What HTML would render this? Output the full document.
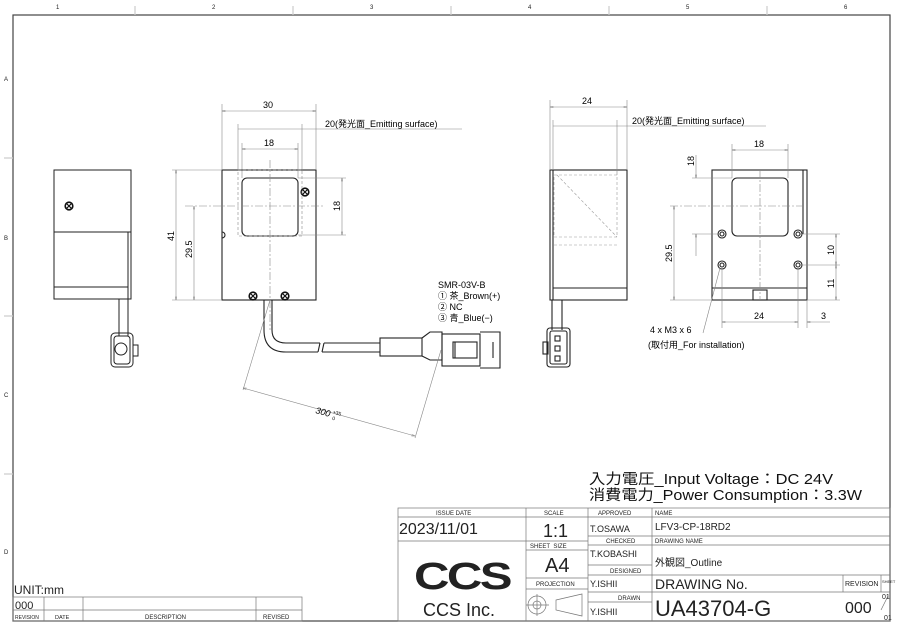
<!DOCTYPE html>
<html><head><meta charset="utf-8"><style>
html,body{margin:0;padding:0;background:#fff;}
svg{display:block;font-family:"Liberation Sans","Noto Sans CJK JP",sans-serif;}
.t{font-size:9px;fill:#000}
.s{font-size:6px;fill:#222}
</style></head><body>
<svg width="900" height="624" viewBox="0 0 900 624" xmlns="http://www.w3.org/2000/svg">
<defs>
<marker id="a" viewBox="0 0 10 6" refX="10" refY="3" markerWidth="8" markerHeight="4" orient="auto-start-reverse"><path d="M0,0 L10,3 L0,6" fill="none" stroke="#777" stroke-width="1"/></marker>
<g id="sc"><circle r="3.8" fill="#fff" stroke="#111" stroke-width="1.6"/><path d="M-2.2,-2.2 L2.2,2.2 M-2.2,2.2 L2.2,-2.2" stroke="#111" stroke-width="1.1"/></g>
</defs>
<!-- border -->
<rect x="13" y="15" width="877" height="606" fill="none" stroke="#444" stroke-width="1.2"/>
<g stroke="#ccc" stroke-width="1.2">
<line x1="135" y1="6" x2="135" y2="15"/><line x1="293" y1="6" x2="293" y2="15"/><line x1="451" y1="6" x2="451" y2="15"/><line x1="609" y1="6" x2="609" y2="15"/><line x1="767" y1="6" x2="767" y2="15"/>
<line x1="4" y1="158" x2="13" y2="158"/><line x1="4" y1="316" x2="13" y2="316"/><line x1="4" y1="474" x2="13" y2="474"/>
</g>
<g class="s" font-size="7">
<text x="56" y="9">1</text><text x="212" y="9">2</text><text x="370" y="9">3</text><text x="528" y="9">4</text><text x="686" y="9">5</text><text x="844" y="9">6</text>
<text x="4" y="81">A</text><text x="4" y="240">B</text><text x="4" y="397">C</text><text x="4" y="554">D</text>
</g>

<!-- left view -->
<g fill="none" stroke="#222" stroke-width="1">
<rect x="54" y="170" width="77" height="129"/>
<line x1="54" y1="232" x2="131" y2="232"/>
<line x1="54" y1="287" x2="128" y2="287"/>
<line x1="128" y1="232" x2="128" y2="299"/>
<line x1="119" y1="299" x2="119" y2="336"/><line x1="128" y1="299" x2="128" y2="336"/>
<rect x="111" y="333" width="22" height="34" rx="4"/>
<rect x="114" y="336" width="16" height="28" rx="3"/>
<circle cx="121" cy="349" r="6"/>
<rect x="133" y="345" width="5" height="11"/>
</g>
<use href="#sc" x="69" y="206"/>

<!-- front view -->
<g fill="none" stroke="#222" stroke-width="1.1">
<rect x="222" y="170" width="94" height="130"/>
<rect x="242" y="178" width="56" height="58" rx="5"/>
<path d="M222,232 a3,3 0 0 1 0,6"/>
<path d="M264,300 V330 Q264,352 286,352 H318"/>
<path d="M272,300 V330 Q272,343 286,343 H320"/>
<path d="M318,352 l2,-9 M322,352 l2,-9"/>
<path d="M322,352 H380 M324,343 H380"/>
<rect x="380" y="338" width="42" height="18"/>
<path d="M422,338 L430,332 H442 V360 H430 L422,356"/>
<rect x="442" y="334" width="38" height="32"/>
<rect x="453" y="342" width="24" height="16"/>
<line x1="455" y1="342" x2="455" y2="358"/>
<path d="M480,332 H500 V368 H480"/>
<line x1="493" y1="342" x2="493" y2="358"/>
</g>
<use href="#sc" x="305" y="192"/><use href="#sc" x="253" y="296"/><use href="#sc" x="285" y="296"/>
<g fill="none" stroke="#888" stroke-width="0.6" stroke-dasharray="3,2">
<rect x="238" y="170" width="64" height="66"/>
</g>
<g fill="none" stroke="#888" stroke-width="0.6" stroke-dasharray="8,2,2,2">
<line x1="270" y1="160" x2="270" y2="330"/>
<line x1="185" y1="206" x2="325" y2="206"/>
</g>
<g stroke="#888" stroke-width="0.6" fill="none">
<line x1="222" y1="104" x2="222" y2="170"/><line x1="316" y1="104" x2="316" y2="170"/>
<line x1="222" y1="111" x2="316" y2="111" marker-start="url(#a)" marker-end="url(#a)"/>
<line x1="238" y1="124" x2="238" y2="170"/><line x1="302" y1="124" x2="302" y2="170"/>
<line x1="238" y1="129" x2="462" y2="129"/>
<line x1="242" y1="143" x2="242" y2="178"/><line x1="298" y1="143" x2="298" y2="178"/>
<line x1="242" y1="149" x2="298" y2="149" marker-start="url(#a)" marker-end="url(#a)"/>
<line x1="298" y1="178" x2="346" y2="178"/><line x1="298" y1="235" x2="346" y2="235"/>
<line x1="342" y1="178" x2="342" y2="235" marker-start="url(#a)" marker-end="url(#a)"/>
<line x1="172" y1="170" x2="222" y2="170"/><line x1="172" y1="300" x2="222" y2="300"/>
<line x1="176" y1="170" x2="176" y2="300" marker-start="url(#a)" marker-end="url(#a)"/>
<line x1="194" y1="206" x2="194" y2="300" marker-start="url(#a)" marker-end="url(#a)"/>
<line x1="270" y1="300" x2="243" y2="390"/>
<line x1="441" y1="350" x2="415" y2="438"/>
<line x1="243" y1="388" x2="415" y2="436" marker-start="url(#a)" marker-end="url(#a)"/>
</g>
<text class="t" x="263" y="108">30</text>
<text class="t" x="325" y="127">20(発光面_Emitting surface)</text>
<text class="t" x="264" y="146">18</text>
<text class="t" transform="translate(340,211) rotate(-90)">18</text>
<text class="t" transform="translate(174,241) rotate(-90)">41</text>
<text class="t" transform="translate(192,258) rotate(-90)">29.5</text>
<g transform="translate(315,413) rotate(15)"><text class="t" x="0" y="0" font-style="italic">300</text><text x="17" y="-4" font-size="5">+35</text><text x="18" y="2" font-size="5">0</text></g>
<g class="t"><text x="438" y="288">SMR-03V-B</text><text x="438" y="299">① 茶_Brown(+)</text><text x="438" y="310">② NC</text><text x="438" y="321">③ 青_Blue(−)</text></g>

<!-- side view -->
<g fill="none" stroke="#222" stroke-width="1.1">
<rect x="550" y="170" width="77" height="130"/>
<line x1="553" y1="170" x2="553" y2="300"/>
<line x1="553" y1="288" x2="627" y2="288"/>
<line x1="552" y1="300" x2="552" y2="330"/><line x1="562" y1="300" x2="562" y2="330"/>
<rect x="547" y="328" width="23" height="39" rx="3"/>
<rect x="550" y="331" width="17" height="33" rx="2"/>
<rect x="543" y="342" width="5" height="12"/>
<rect x="555" y="336" width="5" height="5"/><rect x="555" y="346" width="5" height="5"/><rect x="555" y="356" width="5" height="5"/>
</g>
<g fill="none" stroke="#999" stroke-width="0.6" stroke-dasharray="3,2">
<rect x="554" y="175" width="63" height="62"/>
<line x1="557" y1="175" x2="617" y2="237"/>
<line x1="554" y1="245" x2="617" y2="245"/>
</g>
<g stroke="#888" stroke-width="0.6" fill="none">
<line x1="550" y1="100" x2="550" y2="170"/><line x1="627" y1="100" x2="627" y2="170"/>
<line x1="550" y1="107" x2="627" y2="107" marker-start="url(#a)" marker-end="url(#a)"/>
<line x1="553" y1="120" x2="553" y2="170"/><line x1="617" y1="120" x2="617" y2="175"/>
<line x1="553" y1="126" x2="766" y2="126"/>
</g>
<text class="t" x="582" y="104">24</text>
<text class="t" x="632" y="124">20(発光面_Emitting surface)</text>

<!-- rear view -->
<g fill="none" stroke="#222" stroke-width="1.1">
<rect x="712" y="170" width="95" height="130"/>
<line x1="803" y1="170" x2="803" y2="234"/>
<rect x="732" y="178" width="56" height="58" rx="5"/>
<line x1="712" y1="288" x2="807" y2="288"/>
<rect x="753" y="290" width="14" height="10"/>
<circle cx="722" cy="234" r="4"/><circle cx="798" cy="234" r="4"/>
<circle cx="722" cy="265" r="4"/><circle cx="798" cy="265" r="4"/>
<circle cx="722" cy="234" r="2"/><circle cx="798" cy="234" r="2"/>
<circle cx="722" cy="265" r="2"/><circle cx="798" cy="265" r="2"/>
</g>
<g fill="none" stroke="#888" stroke-width="0.6" stroke-dasharray="8,2,2,2">
<line x1="760" y1="170" x2="760" y2="300"/>
<line x1="670" y1="206" x2="810" y2="206"/>
</g>
<g stroke="#888" stroke-width="0.6" fill="none">
<line x1="732" y1="144" x2="732" y2="178"/><line x1="788" y1="144" x2="788" y2="178"/>
<line x1="732" y1="150" x2="788" y2="150" marker-start="url(#a)" marker-end="url(#a)"/>
<line x1="692" y1="178" x2="732" y2="178"/><line x1="692" y1="234" x2="718" y2="234"/>
<line x1="696" y1="155" x2="696" y2="178" marker-end="url(#a)"/>
<line x1="696" y1="256" x2="696" y2="234" marker-end="url(#a)"/>
<line x1="670" y1="300" x2="712" y2="300"/>
<line x1="674" y1="206" x2="674" y2="300" marker-start="url(#a)" marker-end="url(#a)"/>
<line x1="802" y1="234" x2="840" y2="234"/><line x1="802" y1="265" x2="840" y2="265"/><line x1="807" y1="300" x2="840" y2="300"/>
<line x1="836" y1="234" x2="836" y2="265" marker-start="url(#a)" marker-end="url(#a)"/>
<line x1="836" y1="265" x2="836" y2="300" marker-start="url(#a)" marker-end="url(#a)"/>
<line x1="722" y1="269" x2="722" y2="328"/><line x1="798" y1="269" x2="798" y2="328"/><line x1="807" y1="300" x2="807" y2="328"/>
<line x1="722" y1="322" x2="798" y2="322" marker-start="url(#a)" marker-end="url(#a)"/>
<line x1="830" y1="322" x2="807" y2="322" marker-end="url(#a)"/>
<line x1="720" y1="268" x2="703" y2="333"/>
</g>
<text class="t" x="754" y="147">18</text>
<text class="t" transform="translate(694,166) rotate(-90)">18</text>
<text class="t" transform="translate(672,262) rotate(-90)">29.5</text>
<text class="t" transform="translate(834,255) rotate(-90)">10</text>
<text class="t" transform="translate(834,288) rotate(-90)">11</text>
<text class="t" x="754" y="319">24</text>
<text class="t" x="821" y="319">3</text>
<text class="t" x="650" y="333">4 x M3 x 6</text>
<text class="t" x="648" y="348">(取付用_For installation)</text>

<!-- specs -->
<text x="589" y="484" font-size="14.5" fill="#111" textLength="244" lengthAdjust="spacingAndGlyphs">入力電圧_Input Voltage：DC 24V</text>
<text x="589" y="500" font-size="14.5" fill="#111" textLength="273" lengthAdjust="spacingAndGlyphs">消費電力_Power Consumption：3.3W</text>

<!-- title block -->
<g stroke="#777" stroke-width="0.7" fill="none">
<rect x="398" y="508" width="492" height="113"/>
<line x1="526" y1="508" x2="526" y2="621"/>
<line x1="588" y1="508" x2="588" y2="621"/>
<line x1="652" y1="508" x2="652" y2="621"/>
<line x1="398" y1="517" x2="890" y2="517"/>
<line x1="398" y1="541" x2="588" y2="541"/>
<line x1="526" y1="550" x2="588" y2="550"/>
<line x1="526" y1="578" x2="588" y2="578"/>
<line x1="526" y1="589" x2="588" y2="589"/>
<line x1="588" y1="536" x2="890" y2="536"/>
<line x1="588" y1="545" x2="890" y2="545"/>
<line x1="588" y1="565" x2="652" y2="565"/>
<line x1="588" y1="575" x2="890" y2="575"/>
<line x1="588" y1="592" x2="890" y2="592"/>
<line x1="588" y1="602" x2="652" y2="602"/>
<line x1="843" y1="575" x2="843" y2="592"/>
<line x1="881" y1="575" x2="881" y2="592"/>
<line x1="881" y1="610" x2="888" y2="596"/>
<circle cx="537" cy="605" r="9"/><circle cx="537" cy="605" r="4"/>
<line x1="526" y1="605" x2="549" y2="605"/><line x1="537" y1="594" x2="537" y2="616"/>
<path d="M556,600 L582,594 V616 L556,610 Z"/>
<!-- revision table -->
<rect x="13" y="597" width="289" height="24"/>
<line x1="13" y1="610" x2="302" y2="610"/>
<line x1="44" y1="597" x2="44" y2="621"/><line x1="83" y1="597" x2="83" y2="621"/><line x1="256" y1="597" x2="256" y2="621"/>
</g>
<g class="s" font-size="6.5">
<text x="436" y="515">ISSUE DATE</text><text x="544" y="515">SCALE</text><text x="598" y="515">APPROVED</text><text x="655" y="515">NAME</text>
<text x="530" y="548">SHEET&#160;&#160;SIZE</text><text x="606" y="543">CHECKED</text><text x="655" y="543">DRAWING NAME</text>
<text x="610" y="573">DESIGNED</text><text x="536" y="586">PROJECTION</text><text x="618" y="600">DRAWN</text>
<text x="845" y="586" font-size="7">REVISION</text><text x="882" y="583" font-size="4">SHEET</text>
<text x="15" y="619" font-size="5">REVISION</text><text x="55" y="619" font-size="5.5">DATE</text><text x="145" y="619">DESCRIPTION</text><text x="263" y="619">REVISED</text>
</g>
<g fill="#222">
<text x="399" y="534" font-size="16">2023/11/01</text>
<text x="543" y="537" font-size="18">1:1</text>
<text x="545" y="572" font-size="20">A4</text>
<text x="590" y="532" font-size="9">T.OSAWA</text>
<text x="590" y="557" font-size="9">T.KOBASHI</text>
<text x="590" y="587" font-size="9">Y.ISHII</text>
<text x="590" y="615" font-size="9">Y.ISHII</text>
<text x="655" y="530" font-size="10">LFV3-CP-18RD2</text>
<text x="655" y="566" font-size="10">外観図_Outline</text>
<text x="655" y="589" font-size="14">DRAWING No.</text>
<text x="655" y="616" font-size="22">UA43704-G</text>
<text x="845" y="613" font-size="16">000</text>
<text x="882" y="599" font-size="7">01</text><text x="884" y="620" font-size="7">01</text>
<text x="423" y="616" font-size="18">CCS Inc.</text>
<text x="14" y="594" font-size="12">UNIT:mm</text>
<text x="15" y="609" font-size="11">000</text>
<text x="414" y="589" font-size="38" font-weight="bold" font-family="Liberation Sans" letter-spacing="-2" textLength="96" lengthAdjust="spacingAndGlyphs">CCS</text>
</g>
</svg>
</body></html>
